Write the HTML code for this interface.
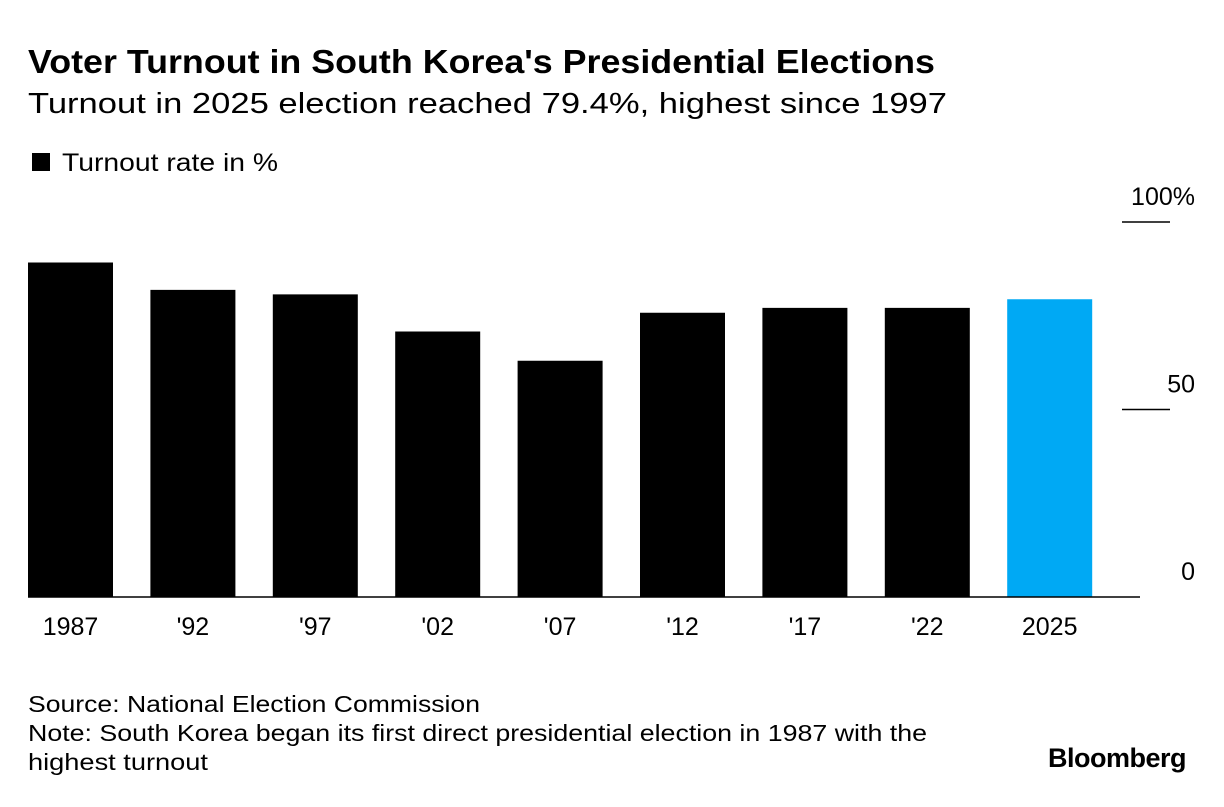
<!DOCTYPE html>
<html><head><meta charset="utf-8"><style>
body{margin:0;background:#fff;font-family:"Liberation Sans",Arial,sans-serif;}
svg text{font-family:"Liberation Sans",Arial,sans-serif;}
</style></head><body>
<svg id="chart" width="1224" height="802">
<text x="28" y="73" font-size="33" font-weight="bold" fill="#000" textLength="907" lengthAdjust="spacingAndGlyphs">Voter Turnout in South Korea's Presidential Elections</text>
<text x="28" y="113" font-size="29" fill="#000" textLength="919" lengthAdjust="spacingAndGlyphs">Turnout in 2025 election reached 79.4%, highest since 1997</text>
<rect x="32" y="153" width="18" height="18" fill="#000"/>
<text x="62" y="171" font-size="25" fill="#000" textLength="216" lengthAdjust="spacingAndGlyphs">Turnout rate in %</text>
<g id="grid"></g><g id="bars"></g><g id="xlabels"></g>
<line x1="28" x2="1140" y1="597" y2="597" stroke="#000" stroke-width="1.5"/>
<text x="28" y="712" font-size="23" fill="#000" textLength="452" lengthAdjust="spacingAndGlyphs">Source: National Election Commission</text>
<text x="28" y="741" font-size="23" fill="#000" textLength="899" lengthAdjust="spacingAndGlyphs">Note: South Korea began its first direct presidential election in 1987 with the</text>
<text x="28" y="770" font-size="23" fill="#000" textLength="180" lengthAdjust="spacingAndGlyphs">highest turnout</text>
<text x="1186" y="767" font-size="27" font-weight="bold" fill="#000" text-anchor="end" letter-spacing="-0.5">Bloomberg</text>
</svg>
<script>
const categories=["1987","'92","'97","'02","'07","'12","'17","'22","2025"];
const turnout=[89.2,81.9,80.7,70.8,63.0,75.8,77.1,77.1,79.4];
const yTicks=[0,50,100];
const yTickLabels=["0","50","100%"];
const ns="http://www.w3.org/2000/svg";
const y0=597,pxPer=3.75,x0=28,step=122.4,bw=85;
const y=v=>y0-v*pxPer;
const x=i=>x0+i*step;
function mk(t,a,p){const e=document.createElementNS(ns,t);for(const k in a)e.setAttribute(k,a[k]);p.appendChild(e);return e;}
const g=document.getElementById('grid'),b=document.getElementById('bars'),xl=document.getElementById('xlabels');
yTicks.forEach((v,i)=>{
 if(v>0){const l=mk('line',{x1:1122,x2:1170,y1:y(v),y2:y(v),stroke:'#000','stroke-width':1.5},g);
 
 }
 const t=mk('text',{x:1195,y:y(v)-17,'font-size':25,'text-anchor':'end',fill:'#000'},g);
 t.textContent=yTickLabels[i];
 
 
});
turnout.forEach((v,i)=>{
 const r=mk('rect',{x:x(i),y:y(v),width:bw,height:v*pxPer,fill:i==turnout.length-1?'#00a9f4':'#000'},b);
 
 
 const t=mk('text',{x:x(i)+bw/2,y:635,'font-size':25,'text-anchor':'middle',fill:'#000'},xl);
 t.textContent=categories[i];
 
 
});
</script>
</body></html>
